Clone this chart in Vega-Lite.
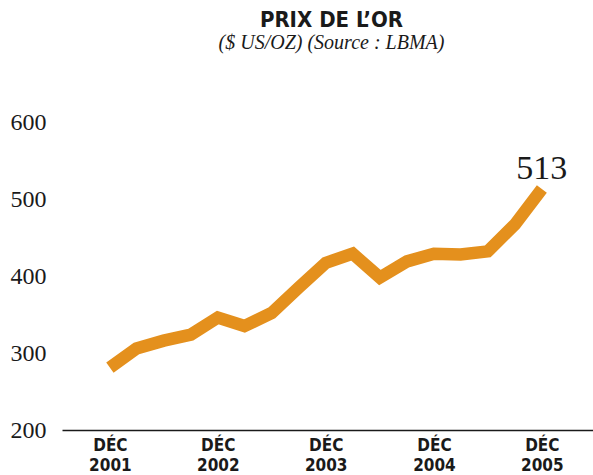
{
  "$schema": "https://vega.github.io/schema/vega-lite/v6.json",
  "width": 531,
  "height": 308,
  "autosize": {"type": "none"},
  "padding": {"left": 62, "top": 122, "right": 0, "bottom": 45},
  "background": "#ffffff",
  "title": {
    "text": "PRIX DE L’OR",
    "subtitle": "($ US/OZ) (Source : LBMA)",
    "anchor": "middle",
    "offset": 56,
    "font": "Liberation Sans Narrow, DejaVu Sans Condensed",
    "fontWeight": "bold",
    "fontSize": 22,
    "color": "#1a1a1a",
    "subtitleFont": "Liberation Serif",
    "subtitleFontStyle": "italic",
    "subtitleFontSize": 20,
    "subtitleColor": "#1a1a1a",
    "subtitlePadding": 1,
    "dx": 4
  },
  "config": {"view": {"stroke": null}},
  "data": {
    "values": [
      {"date": "2001-12-15", "price": 281},
      {"date": "2002-03-15", "price": 306},
      {"date": "2002-06-15", "price": 316},
      {"date": "2002-09-15", "price": 324},
      {"date": "2002-12-15", "price": 346},
      {"date": "2003-03-15", "price": 335},
      {"date": "2003-06-15", "price": 352},
      {"date": "2003-09-15", "price": 385},
      {"date": "2003-12-15", "price": 417},
      {"date": "2004-03-15", "price": 429},
      {"date": "2004-06-15", "price": 398},
      {"date": "2004-09-15", "price": 419},
      {"date": "2004-12-15", "price": 429},
      {"date": "2005-03-15", "price": 428},
      {"date": "2005-06-15", "price": 432},
      {"date": "2005-09-15", "price": 467},
      {"date": "2005-12-15", "price": 513}
    ]
  },
  "encoding": {
    "x": {
      "field": "date",
      "type": "temporal",
      "scale": {"type": "utc", "domain": [{"year": 2001, "month": 7, "date": 6, "utc": true}, {"year": 2006, "month": 6, "date": 6, "utc": true}]},
      "axis": {
        "title": null,
        "values": [
          {"year": 2001, "month": 12, "date": 15, "utc": true},
          {"year": 2002, "month": 12, "date": 15, "utc": true},
          {"year": 2003, "month": 12, "date": 15, "utc": true},
          {"year": 2004, "month": 12, "date": 15, "utc": true},
          {"year": 2005, "month": 12, "date": 15, "utc": true}
        ],
        "labelExpr": "['DÉC', utcFormat(datum.value, '%Y')]",
        "labelFont": "Liberation Sans Narrow, DejaVu Sans Condensed",
        "labelFontWeight": "bold",
        "labelFontSize": 17,
        "labelLineHeight": 20,
        "labelColor": "#1a1a1a",
        "labelPadding": 7,
        "labelAlign": "center",
        "labelBaseline": "top",
        "labelOverlap": false,
        "ticks": false,
        "grid": false,
        "domainColor": "#1a1a1a",
        "domainWidth": 1.5
      }
    },
    "y": {
      "field": "price",
      "type": "quantitative",
      "scale": {"domain": [200, 600], "nice": false, "zero": false},
      "axis": {
        "title": null,
        "values": [200, 300, 400, 500, 600],
        "labelFont": "Liberation Serif",
        "labelFontSize": 24,
        "labelColor": "#1a1a1a",
        "labelAlign": "left",
        "labelBaseline": "middle",
        "labelPadding": 52,
        "ticks": false,
        "grid": false,
        "domain": false
      }
    }
  },
  "layer": [
    {
      "mark": {"type": "line", "color": "#E4901D", "strokeWidth": 12.5, "strokeJoin": "miter", "strokeCap": "butt"}
    },
    {
      "transform": [{"filter": "datum.price == 513"}],
      "mark": {"type": "text", "font": "Liberation Serif", "fontSize": 34, "color": "#1a1a1a", "baseline": "alphabetic", "align": "center", "dy": -10},
      "encoding": {"text": {"field": "price", "type": "quantitative"}}
    }
  ]
}
